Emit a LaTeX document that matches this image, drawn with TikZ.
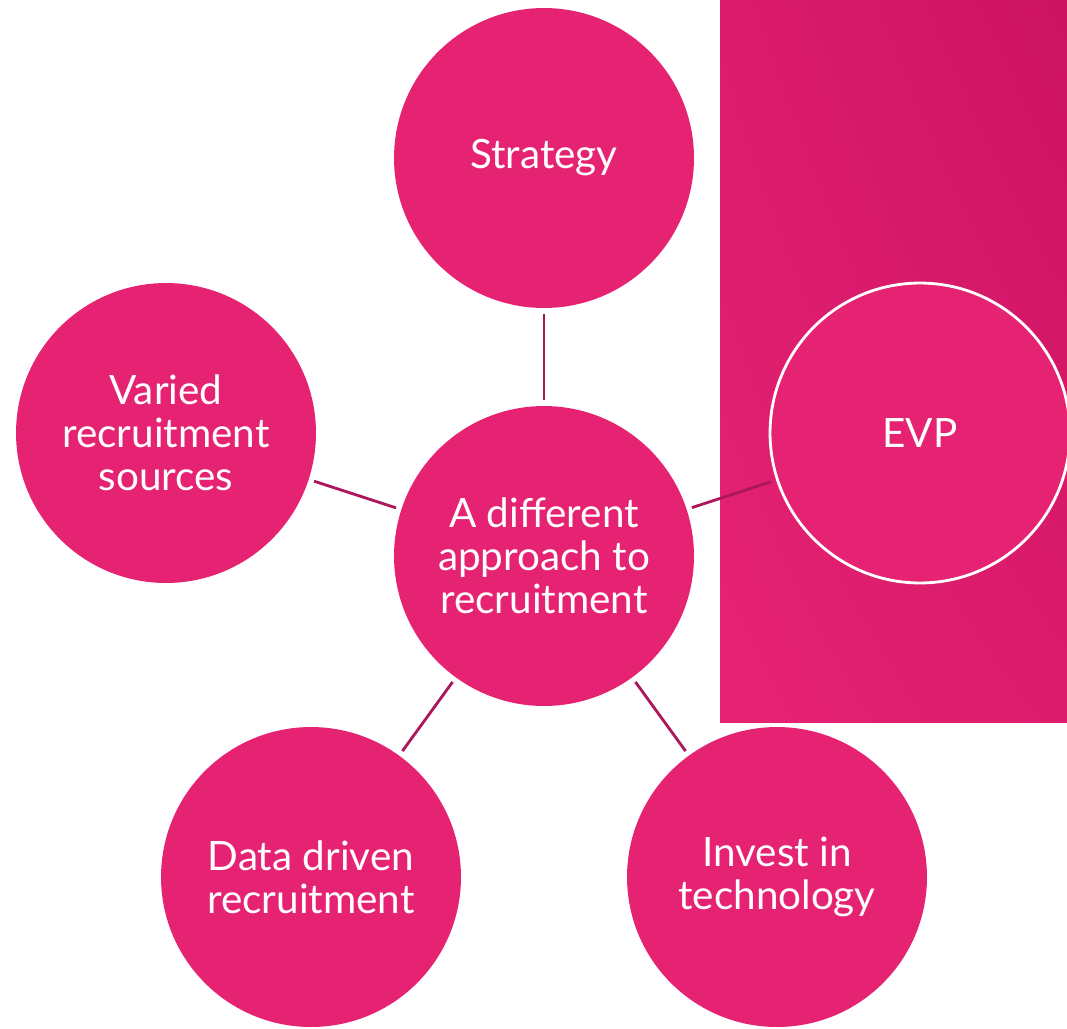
\documentclass[tikz,border=0pt]{standalone}
\usepackage{fontspec}
\setmainfont{Lato}
\usetikzlibrary{shadings}
\definecolor{pinkfill}{HTML}{E62273}
\definecolor{pinkdark}{HTML}{CC1262}
\definecolor{pinkmid}{HTML}{DC1C6C}
\definecolor{linkcol}{HTML}{AC165A}
\tikzset{
	bubble/.style={circle,fill=pinkfill,minimum size=6cm,inner sep=0pt,text=white,align=center,font=\fontsize{23}{24.5}\selectfont},
	link/.style={draw=linkcol,line width=1.6pt,shorten <=3pt,shorten >=3pt}
}
\begin{document}
\begin{tikzpicture}[x=0.02cm,y=-0.02cm]
		\useasboundingbox (0,0) rectangle (1067,1028);
		% panel behind EVP
			\shade [lower left=pinkfill,upper right=pinkdark,upper left=pinkmid,lower right=pinkmid] (720,722) rectangle (1067,0);
		% circles
			\node [bubble] (hub) at (544,556) {A different\\approach to\\recruitment};
			\node [bubble] (strategy) at (544,158) {Strategy};
			\node [bubble] (sources) at (166,433) {Varied\\recruitment\\sources};
			\node [bubble,draw=white,line width=1.6pt] (evp) at (920,433) {EVP};
			\node [bubble] (data) at (311,877) {Data driven\\recruitment};
			\node [bubble] (tech) at (777,877) {Invest in\\technology};
		% links
			\draw [link] (hub) -- (strategy);
			\draw [link] (hub) -- (sources);
			\draw [link] (hub) -- (evp);
			\draw [link] (hub) -- (data);
			\draw [link] (hub) -- (tech);
	\end{tikzpicture}
\end{document}
